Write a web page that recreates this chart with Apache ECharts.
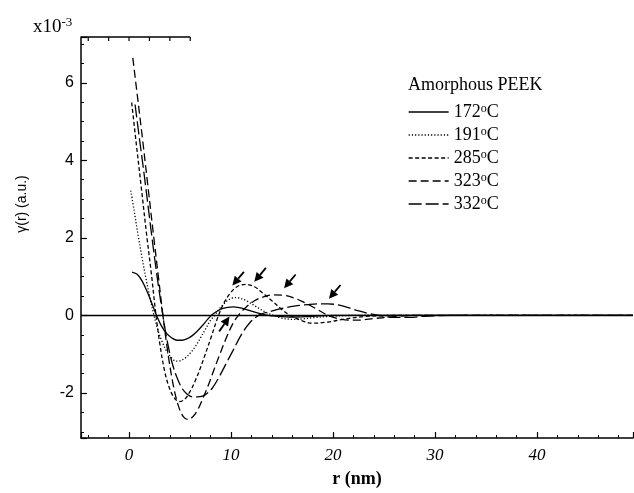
<!DOCTYPE html>
<html><head><meta charset="utf-8">
<script src="https://cdn.jsdelivr.net/npm/echarts@6/dist/echarts.min.js"></script>
<style>html,body{margin:0;padding:0;background:#fff}#c{width:634px;height:493px}</style>
</head><body><div id="c"></div>
<script>
// ---- data (γ(r) in units of 1e-3, r in nm) ----
const tempLabels = ['172', '191', '285', '323', '332'];

const r172 = [0.3, 0.8, 1.3, 1.8, 2.3, 2.7, 3.2, 3.7, 4.2, 4.7, 5.2, 5.7, 6.2, 6.7, 7.2, 7.7, 8.2, 8.7, 9.2, 9.7, 10.2, 10.8, 11.5, 12.5, 13.5, 14.5, 16, 18, 20, 24, 30, 40, 49.4];
const g172 = [1.12, 1.06, 0.88, 0.6, 0.27, 0, -0.28, -0.47, -0.58, -0.64, -0.64, -0.6, -0.52, -0.4, -0.26, -0.1, 0.03, 0.12, 0.18, 0.21, 0.22, 0.2, 0.15, 0.07, 0.01, -0.02, -0.04, -0.02, 0, 0, 0, 0, 0];

const r191 = [0.17, 0.5, 0.9, 1.3, 1.7, 2.1, 2.4, 2.8, 3.2, 3.7, 4.2, 4.6, 5.0, 5.5, 6.0, 6.5, 7.0, 7.5, 8.0, 8.4, 8.8, 9.3, 9.8, 10.3, 10.8, 11.5, 12.5, 13.5, 14.2, 15, 16, 17, 18, 20, 22, 26, 30, 40, 49.4];
const g191 = [3.22, 2.7, 2.05, 1.45, 0.9, 0.4, 0.05, -0.35, -0.65, -0.93, -1.1, -1.18, -1.17, -1.1, -0.97, -0.8, -0.58, -0.35, -0.12, 0, 0.15, 0.3, 0.41, 0.46, 0.45, 0.38, 0.22, 0.07, 0, -0.07, -0.1, -0.09, -0.06, -0.02, 0, 0, 0, 0, 0];

const r285 = [0.26, 0.7, 1.2, 1.73, 2.2, 2.6, 3.0, 3.5, 4.0, 4.5, 5.0, 5.5, 6.0, 6.5, 7.0, 7.5, 8.0, 8.7, 9.3, 10.0, 10.7, 11.5, 12.3, 13.0, 14.0, 15.0, 15.8, 17.0, 18.0, 19.5, 21, 23, 26, 30, 40, 49.4];
const g285 = [5.49, 4.45, 3.3, 2.07, 1.05, 0.1, -0.7, -1.45, -1.9, -2.15, -2.22, -2.15, -1.95, -1.68, -1.35, -0.98, -0.6, -0.05, 0.32, 0.6, 0.76, 0.8, 0.74, 0.6, 0.38, 0.15, 0, -0.14, -0.2, -0.17, -0.1, -0.03, 0, 0, 0, 0];

const r323 = [0.37, 0.8, 1.3, 1.8, 2.4, 2.9, 3.3, 3.8, 4.3, 4.8, 5.3, 5.8, 6.3, 6.8, 7.3, 7.8, 8.3, 8.9, 9.5, 10.2, 10.8, 11.5, 12.3, 13.2, 14.2, 15.2, 16.2, 17.2, 18.3, 19.5, 20.5, 21.5, 22.5, 24, 26, 28, 32, 40, 49.4];
const g323 = [6.64, 5.7, 4.6, 3.45, 2.07, 0.95, 0.05, -0.95, -1.75, -2.3, -2.6, -2.68, -2.6, -2.4, -2.1, -1.78, -1.42, -1.0, -0.6, -0.2, 0.03, 0.22, 0.38, 0.48, 0.53, 0.52, 0.45, 0.33, 0.18, 0, -0.08, -0.12, -0.12, -0.08, -0.03, 0, 0, 0, 0];

const r332 = [0.59, 1.0, 1.5, 2.2, 2.7, 3.2, 3.7, 4.2, 4.7, 5.2, 5.7, 6.2, 6.7, 7.2, 7.7, 8.2, 8.8, 9.5, 10.2, 11.0, 11.8, 12.8, 13.8, 15.0, 16.2, 17.5, 18.5, 19.5, 20.5, 21.5, 22.5, 23.5, 24.5, 26, 27.5, 29, 32, 40, 49.4];
const g332 = [5.44, 4.6, 3.6, 2.11, 1.1, 0.2, -0.6, -1.2, -1.6, -1.88, -2.03, -2.1, -2.1, -2.08, -2.0, -1.86, -1.6, -1.25, -0.9, -0.5, -0.2, 0.02, 0.1, 0.18, 0.24, 0.28, 0.3, 0.3, 0.27, 0.2, 0.12, 0.05, 0, -0.05, -0.05, -0.02, 0, 0, 0];

// arrow annotations: tip position (r, γ) and pointing direction (deg, screen)
const arrowR = [10.13, 12.28, 15.2, 19.6, 9.85];
const arrowG = [0.77, 0.87, 0.7, 0.43, -0.03];
const arrowDir = [130, 130, 130, 130, -55];

const xMin = -4.71, xMax = 49.41, yMin = -3.16, yMax = 7.18;
const topLineEnd = 6;

// ---- chart ----
const rs = [r172, r191, r285, r323, r332];
const gs = [g172, g191, g285, g323, g332];
const dashTypes = ['solid', [1.2, 2], [4, 2.5], [8, 4], [13, 4]];
const names = tempLabels.map(t => t + 'oC');
const serif = '"Liberation Serif", "Times New Roman", serif';
const sans = '"Liberation Sans", Arial, sans-serif';

const lineSeries = names.map((n, i) => ({
  name: n, type: 'line', smooth: 0.35, symbol: 'none', showSymbol: false,
  lineStyle: { color: '#000', width: 1.3, type: dashTypes[i] },
  itemStyle: { color: '#000' },
  data: rs[i].map((x, j) => [x, gs[i][j]]),
  z: 3
}));
lineSeries[0].markLine = {
  silent: true, symbol: 'none', label: { show: false }, animation: false,
  lineStyle: { color: '#000', type: 'solid', width: 1.3 },
  data: [{ yAxis: 0 }]
};

const arrowSeries = {
  type: 'custom', name: 'arrows', silent: true, z: 5,
  encode: { x: 0, y: 1 },
  data: arrowR.map((x, i) => [x, arrowG[i], arrowDir[i]]),
  renderItem: function (params, api) {
    const p = api.coord([api.value(0), api.value(1)]);
    const a = api.value(2) * Math.PI / 180;
    const dx = Math.cos(a), dy = Math.sin(a);
    const L = 18, H = 9, W = 4.5;
    const tail = [p[0] - dx * L, p[1] - dy * L];
    const base = [p[0] - dx * H, p[1] - dy * H];
    const nx = -dy, ny = dx;
    return {
      type: 'group', children: [
        { type: 'line', shape: { x1: tail[0], y1: tail[1], x2: base[0], y2: base[1] }, style: { stroke: '#000', lineWidth: 1.8 } },
        { type: 'polygon', shape: { points: [p, [base[0] + nx * W, base[1] + ny * W], [base[0] - nx * W, base[1] - ny * W]] }, style: { fill: '#000' } }
      ]
    };
  }
};

const chart = echarts.init(document.getElementById('c'), null, { renderer: 'canvas' });
chart.setOption({
  animation: false,
  backgroundColor: '#fff',
  grid: { left: 81, right: 1, top: 37, bottom: 52, containLabel: false },
  title: {
    text: 'Amorphous PEEK', left: 408, top: 76, padding: 0,
    textStyle: { fontFamily: serif, fontSize: 18, fontWeight: 'normal', color: '#000' }
  },
  legend: {
    orient: 'vertical', left: 408, top: 103, padding: 0,
    itemWidth: 40, itemHeight: 14, itemGap: 5,
    data: names,
    itemStyle: { opacity: 0 },
    lineStyle: { color: '#000', width: 1.3 },
    formatter: n => '{n|' + n.slice(0, -2) + '}{s|o}{n|C}',
    textStyle: {
      color: '#000', fontFamily: serif, fontSize: 18,
      rich: {
        n: { fontFamily: serif, fontSize: 18, lineHeight: 18, color: '#000' },
        s: { fontFamily: serif, fontSize: 12, lineHeight: 12, verticalAlign: 'top', color: '#000' }
      }
    }
  },
  xAxis: {
    type: 'value', min: xMin, max: xMax, splitNumber: 5,
    axisLine: { onZero: false, lineStyle: { color: '#000', width: 1.5 } },
    axisTick: { inside: true, length: 6, lineStyle: { color: '#000', width: 1.2 } },
    minorTick: { show: true, splitNumber: 5, length: 3, lineStyle: { color: '#000', width: 1 } },
    splitLine: { show: false }, minorSplitLine: { show: false },
    axisLabel: { showMinLabel: false, showMaxLabel: false, margin: 9, color: '#000', fontFamily: serif, fontStyle: 'italic', fontSize: 17 },
    name: 'r (nm)', nameLocation: 'middle', nameGap: 32,
    nameTextStyle: { color: '#000', fontFamily: serif, fontWeight: 'bold', fontSize: 18 }
  },
  yAxis: {
    type: 'value', min: yMin, max: yMax, splitNumber: 5,
    axisLine: { onZero: false, lineStyle: { color: '#000', width: 1.5 } },
    axisTick: { inside: true, length: 6, lineStyle: { color: '#000', width: 1.2 } },
    minorTick: { show: true, splitNumber: 4, length: 3, lineStyle: { color: '#000', width: 1 } },
    splitLine: { show: false }, minorSplitLine: { show: false },
    axisLabel: { showMinLabel: false, showMaxLabel: false, margin: 7, color: '#000', fontFamily: sans, fontSize: 16 }
  },
  graphic: [
    {
      type: 'text', left: 33, top: 16,
      style: {
        text: '{a|x10}{b|-3}', fill: '#000',
        rich: {
          a: { fontFamily: serif, fontSize: 19, lineHeight: 22, fill: '#000' },
          b: { fontFamily: serif, fontSize: 13, lineHeight: 13, verticalAlign: 'top', fill: '#000' }
        }
      }
    },
    {
      type: 'text', x: 22, y: 204, rotation: Math.PI / 2,
      style: { text: 'γ(r) (a.u.)', fill: '#000', font: '14px ' + sans, align: 'center', verticalAlign: 'middle', textAlign: 'center', textVerticalAlign: 'middle' }
    }
  ],
  series: lineSeries.concat([arrowSeries])
});

// partial top frame line with ticks, positioned through the axes
const x0 = chart.convertToPixel({ xAxisIndex: 0 }, xMin);
const x1 = chart.convertToPixel({ xAxisIndex: 0 }, topLineEnd);
const yt = chart.convertToPixel({ yAxisIndex: 0 }, yMax);
const topEls = [{ type: 'line', shape: { x1: x0, y1: yt, x2: x1, y2: yt }, style: { stroke: '#000', lineWidth: 1.5 } }];
for (let v = -4; v <= topLineEnd; v += 2) {
  const px = chart.convertToPixel({ xAxisIndex: 0 }, v);
  topEls.push({ type: 'line', shape: { x1: px, y1: yt, x2: px, y2: yt + 4 }, style: { stroke: '#000', lineWidth: 1.2 } });
}
chart.setOption({ graphic: chart.getOption().graphic[0].elements.concat([{ type: 'group', children: topEls }]) });
</script>
</body></html>
